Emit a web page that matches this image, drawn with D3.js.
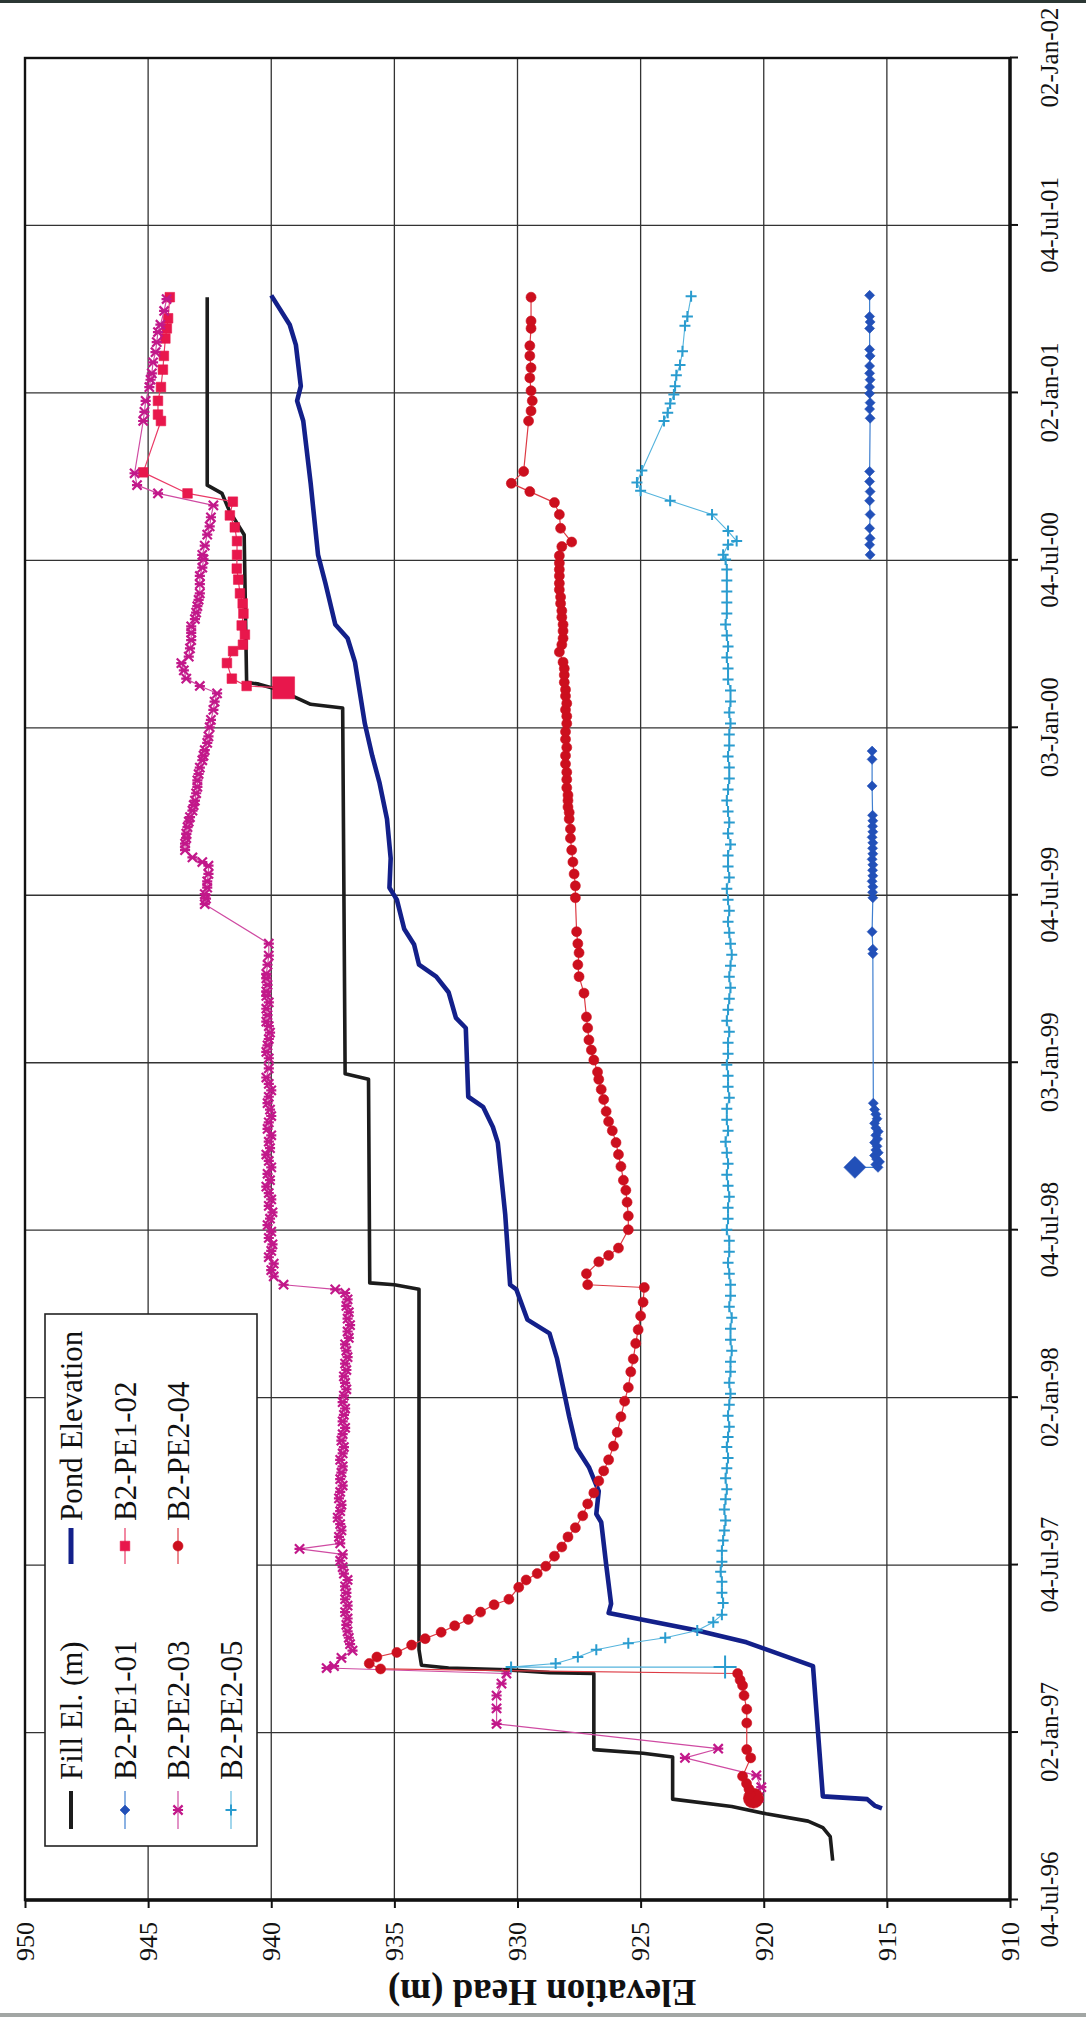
<!DOCTYPE html>
<html>
<head>
<meta charset="utf-8">
<script src="https://cdn.jsdelivr.net/npm/d3@7"></script>
<style>
  html, body { margin: 0; padding: 0; background: #fff; }
  svg { display: block; }
</style>
</head>
<body>
<svg id="chart" width="1086" height="2017"></svg>
<script>
// ---- axis labels ---------------------------------------------------------
const dateTickLabels = ["04-Jul-96","02-Jan-97","04-Jul-97","02-Jan-98","04-Jul-98","03-Jan-99",
                        "04-Jul-99","03-Jan-00","04-Jul-00","02-Jan-01","04-Jul-01","02-Jan-02"];
const elevationTicks = [950,945,940,935,930,925,920,915,910];

// ---- series: [date, elevation (m)] ---------------------------------------
const fillElevation = [
  ["1996-08-16",917.2],["1996-09-11",917.3],["1996-09-21",917.6],["1996-09-28",918.2],
  ["1996-10-06",919.9],["1996-10-14",921.3],["1996-10-22",923.7],["1996-12-07",923.7],
  ["1996-12-11",924.9],["1996-12-15",926.9],["1997-03-08",926.9],["1997-03-09",928.7],
  ["1997-03-12",930.4],["1997-03-14",932.8],["1997-03-17",933.9],["1997-04-03",934.0],
  ["1998-05-01",934.0],["1998-05-06",935.0],["1998-05-08",936.0],["1998-12-16",936.05],
  ["1998-12-22",937.0],["2000-01-25",937.1],["2000-01-29",938.4],["2000-02-14",939.7],
  ["2000-02-20",940.5],["2000-02-22",941.0],["2000-08-01",941.1],["2000-08-27",941.7],
  ["2000-09-15",942.0],["2000-09-24",942.6],["2001-04-17",942.6]
];

const pondElevation = [
  ["1996-10-12",915.2],["1996-10-15",915.5],["1996-10-22",915.8],["1996-10-25",917.6],
  ["1997-03-16",918.0],["1997-04-11",920.7],["1997-04-24",922.7],["1997-05-13",926.3],
  ["1997-05-23",926.2],["1997-07-05",926.4],["1997-08-20",926.6],["1997-08-29",926.8],
  ["1997-09-23",926.7],["1997-10-19",927.1],["1997-11-09",927.6],["1997-12-13",927.9],
  ["1998-02-15",928.4],["1998-03-14",928.7],["1998-03-29",929.6],["1998-05-01",930.05],
  ["1998-05-06",930.3],["1998-07-22",930.5],["1998-10-08",930.8],["1998-10-25",931.0],
  ["1998-11-16",931.4],["1998-11-27",932.0],["1999-02-10",932.1],["1999-02-21",932.5],
  ["1999-03-21",932.8],["1999-04-07",933.3],["1999-04-20",934.0],["1999-05-12",934.2],
  ["1999-05-29",934.6],["1999-06-30",934.9],["1999-07-13",935.2],["1999-08-14",935.15],
  ["1999-09-26",935.3],["1999-11-04",935.6],["1999-12-04",935.9],["2000-01-08",936.2],
  ["2000-03-15",936.6],["2000-04-10",936.9],["2000-04-25",937.4],["2000-06-09",937.8],
  ["2000-07-10",938.1],["2000-09-26",938.4],["2000-12-03",938.7],["2000-12-25",938.95],
  ["2001-01-10",938.8],["2001-02-24",939.0],["2001-03-18",939.25],["2001-04-19",940.0]
];

const pe101 = [
  ["1998-09-11",916.3],["1998-09-11",915.36],["1998-09-14",915.45],["1998-09-17",915.3],
  ["1998-09-20",915.42],["1998-09-24",915.5],["1998-09-27",915.35],["1998-09-30",915.45],
  ["1998-10-04",915.4],["1998-10-08",915.5],["1998-10-12",915.38],["1998-10-16",915.45],
  ["1998-10-20",915.35],["1998-10-24",915.45],["1998-10-29",915.5],["1998-11-03",915.4],
  ["1998-11-08",915.45],["1998-11-13",915.5],["1998-11-20",915.55],
  ["1999-05-02",915.57],["1999-05-07",915.57],["1999-05-26",915.6],["1999-07-02",915.57],
  ["1999-07-08",915.58],["1999-07-14",915.57],["1999-07-20",915.6],["1999-07-26",915.57],
  ["1999-08-01",915.58],["1999-08-07",915.57],["1999-08-13",915.6],["1999-08-19",915.57],
  ["1999-08-25",915.58],["1999-08-31",915.57],["1999-09-06",915.6],["1999-09-12",915.57],
  ["1999-09-18",915.58],["1999-09-24",915.57],["1999-09-30",915.58],["1999-11-01",915.6],
  ["1999-11-30",915.6],["1999-12-09",915.6],
  ["2000-03-01",null],
  ["2000-07-10",915.68],["2000-07-21",915.7],["2000-07-28",915.68],["2000-08-08",915.7],
  ["2000-08-23",915.68],["2000-09-07",915.7],["2000-09-17",915.68],["2000-09-28",915.7],
  ["2000-10-09",915.7],["2000-12-06",915.68],["2000-12-16",915.7],["2000-12-23",915.68],
  ["2001-01-02",915.7],["2001-01-09",915.7],["2001-01-17",915.68],["2001-01-24",915.7],
  ["2001-02-01",915.7],["2001-02-12",915.68],["2001-02-19",915.7],["2001-03-14",915.7],
  ["2001-03-21",915.68],["2001-03-27",915.7],["2001-04-19",915.7]
];

const pe102 = [
  ["2000-02-16",939.5],["2000-02-18",941.0],["2000-02-26",941.6],["2000-03-14",941.8],
  ["2000-03-27",941.55],["2000-04-03",941.15],["2000-04-14",941.07],["2000-04-24",941.2],
  ["2000-05-07",941.13],["2000-05-18",941.16],["2000-05-29",941.27],["2000-06-13",941.34],
  ["2000-06-25",941.4],["2000-07-10",941.39],["2000-07-25",941.39],["2000-08-09",941.48],
  ["2000-08-22",941.68],["2000-09-06",941.56],["2000-09-15",943.4],["2000-10-08",945.2],
  ["2000-12-03",944.48],["2000-12-10",944.6],["2000-12-25",944.6],["2001-01-09",944.48],
  ["2001-01-28",944.4],["2001-02-12",944.36],["2001-03-03",944.3],["2001-03-14",944.24],
  ["2001-03-25",944.19],["2001-04-17",944.12]
];

const pe203 = [
  ["1996-10-24",920.2],["1996-11-04",920.1],["1996-11-17",920.3],["1996-12-06",923.2],
  ["1996-12-16",921.85],["1997-01-12",930.85],["1997-01-29",930.85],["1997-02-12",930.85],
  ["1997-02-25",930.65],["1997-03-08",930.45],["1997-03-14",937.75],["1997-03-16",937.45],
  ["1997-03-25",937.15],["1997-04-02",936.7],["1997-04-09",936.8],["1997-04-16",936.85],
  ["1997-04-23",936.9],["1997-04-30",936.95],["1997-05-07",936.9],["1997-05-14",937.0],
  ["1997-05-21",936.9],["1997-05-28",937.0],["1997-06-04",936.95],["1997-06-11",937.0],
  ["1997-06-18",936.9],["1997-06-25",937.05],["1997-07-02",937.1],["1997-07-09",937.2],
  ["1997-07-16",937.1],["1997-07-22",938.85],["1997-07-28",937.2],["1997-08-04",937.25],
  ["1997-08-11",937.15],["1997-08-18",937.2],["1997-08-25",937.3],["1997-09-01",937.2],
  ["1997-09-08",937.15],["1997-09-15",937.25],["1997-09-22",937.2],["1997-09-29",937.1],
  ["1997-10-06",937.2],["1997-10-13",937.15],["1997-10-20",937.1],["1997-10-27",937.2],
  ["1997-11-03",937.1],["1997-11-10",937.05],["1997-11-17",937.15],["1997-11-24",937.1],
  ["1997-12-01",937.0],["1997-12-08",937.1],["1997-12-15",937.05],["1997-12-22",937.0],
  ["1997-12-29",937.1],["1998-01-05",937.05],["1998-01-12",936.95],["1998-01-19",937.0],
  ["1998-01-26",937.05],["1998-02-02",936.95],["1998-02-09",937.0],["1998-02-16",936.9],
  ["1998-02-23",936.95],["1998-03-02",937.0],["1998-03-09",936.85],["1998-03-16",936.9],
  ["1998-03-23",936.8],["1998-03-30",936.9],["1998-04-06",936.85],["1998-04-13",936.95],
  ["1998-04-20",936.9],["1998-04-27",937.0],["1998-05-01",937.4],["1998-05-06",939.5],
  ["1998-05-15",939.9],["1998-05-22",940.0],["1998-05-29",939.9],["1998-06-05",940.1],
  ["1998-06-12",940.0],["1998-06-19",939.95],["1998-06-26",940.1],["1998-07-03",940.0],
  ["1998-07-10",940.15],["1998-07-17",940.05],["1998-07-24",939.95],["1998-07-31",940.1],
  ["1998-08-07",940.0],["1998-08-14",940.1],["1998-08-21",940.2],["1998-08-28",940.05],
  ["1998-09-04",940.15],["1998-09-11",940.0],["1998-09-18",940.1],["1998-09-25",940.2],
  ["1998-10-02",940.05],["1998-10-09",940.1],["1998-10-16",940.0],["1998-10-23",940.15],
  ["1998-10-30",940.1],["1998-11-06",940.0],["1998-11-13",940.05],["1998-11-20",940.15],
  ["1998-11-27",940.1],["1998-12-04",940.0],["1998-12-11",940.1],["1998-12-18",940.2],
  ["1998-12-28",940.1],["1999-01-08",940.1],["1999-01-15",940.2],["1999-01-22",940.15],
  ["1999-01-29",940.1],["1999-02-05",940.05],["1999-02-12",940.1],["1999-02-17",940.2],
  ["1999-02-24",940.15],["1999-03-03",940.2],["1999-03-10",940.1],["1999-03-17",940.2],
  ["1999-03-22",940.2],["1999-03-29",940.15],["1999-04-05",940.2],["1999-04-10",940.2],
  ["1999-04-20",940.15],["1999-04-30",940.1],["1999-05-13",940.1],["1999-06-25",942.7],
  ["1999-07-01",942.65],["1999-07-06",942.7],["1999-07-13",942.6],["1999-07-20",942.6],
  ["1999-07-28",942.55],["1999-08-06",942.55],["1999-08-10",942.8],["1999-08-15",943.2],
  ["1999-08-23",943.5],["1999-08-30",943.5],["1999-09-05",943.45],["1999-09-10",943.45],
  ["1999-09-17",943.4],["1999-09-23",943.35],["1999-09-28",943.3],["1999-10-05",943.2],
  ["1999-10-11",943.15],["1999-10-16",943.1],["1999-10-24",943.05],["1999-10-31",943.0],
  ["1999-11-07",943.0],["1999-11-14",942.95],["1999-11-21",942.9],["1999-11-29",942.8],
  ["1999-12-04",942.75],["1999-12-10",942.7],["1999-12-18",942.6],["1999-12-25",942.55],
  ["2000-01-04",942.5],["2000-01-12",942.45],["2000-01-23",942.35],["2000-02-01",942.3],
  ["2000-02-10",942.2],["2000-02-18",942.9],["2000-02-26",943.45],["2000-03-06",943.55],
  ["2000-03-14",943.65],["2000-03-21",943.35],["2000-03-30",943.3],["2000-04-08",943.25],
  ["2000-04-16",943.25],["2000-04-23",943.25],["2000-05-01",943.1],["2000-05-08",943.05],
  ["2000-05-15",943.0],["2000-05-22",942.95],["2000-05-29",942.9],["2000-06-08",942.9],
  ["2000-06-17",942.9],["2000-06-26",942.8],["2000-07-05",942.75],["2000-07-10",942.8],
  ["2000-07-20",942.7],["2000-08-01",942.6],["2000-08-10",942.5],["2000-08-20",942.45],
  ["2000-09-02",942.35],["2000-09-15",944.6],["2000-09-24",945.45],["2000-10-07",945.55],
  ["2000-12-03",945.2],["2000-12-13",945.15],["2000-12-25",945.1],["2001-01-09",944.95],
  ["2001-01-17",944.9],["2001-01-24",944.85],["2001-02-05",944.8],["2001-02-16",944.7],
  ["2001-02-27",944.65],["2001-03-10",944.6],["2001-03-18",944.5],["2001-04-02",944.35],
  ["2001-04-15",944.25]
];

const pe204 = [
  ["1996-10-23",920.42],["1996-10-27",920.55],["1996-11-02",920.6],["1996-11-08",920.7],
  ["1996-11-16",920.86],["1996-12-06",920.53],["1996-12-15",920.69],["1997-01-13",920.69],
  ["1997-01-28",920.69],["1997-02-12",920.8],["1997-02-23",920.86],["1997-03-01",920.96],
  ["1997-03-08",921.06],["1997-03-13",935.56],["1997-03-19",936.02],["1997-03-26",935.71],
  ["1997-03-31",934.9],["1997-04-08",934.3],["1997-04-15",933.75],["1997-04-22",933.1],
  ["1997-04-29",932.55],["1997-05-06",932.0],["1997-05-14",931.5],["1997-05-22",930.95],
  ["1997-05-28",930.35],["1997-06-10",929.95],["1997-06-18",929.65],["1997-06-25",929.2],
  ["1997-07-03",928.85],["1997-07-14",928.5],["1997-07-24",928.2],["1997-08-04",927.95],
  ["1997-08-14",927.65],["1997-08-27",927.35],["1997-09-09",927.15],["1997-09-21",926.9],
  ["1997-10-04",926.7],["1997-10-15",926.5],["1997-10-27",926.3],["1997-11-11",926.1],
  ["1997-11-26",925.95],["1997-12-13",925.8],["1997-12-30",925.65],["1998-01-14",925.5],
  ["1998-01-31",925.4],["1998-02-14",925.3],["1998-03-03",925.2],["1998-03-18",925.1],
  ["1998-04-02",925.0],["1998-04-17",924.9],["1998-05-03",924.85],["1998-05-06",927.15],
  ["1998-05-18",927.2],["1998-05-31",926.7],["1998-06-07",926.3],["1998-06-15",925.9],
  ["1998-07-05",925.5],["1998-07-20",925.5],["1998-08-04",925.55],["1998-08-17",925.6],
  ["1998-08-28",925.7],["1998-09-12",925.8],["1998-09-25",925.9],["1998-10-08",926.0],
  ["1998-10-21",926.15],["1998-10-31",926.3],["1998-11-11",926.4],["1998-11-24",926.5],
  ["1998-12-05",926.6],["1998-12-16",926.7],["1998-12-24",926.75],["1999-01-06",926.9],
  ["1999-01-17",927.0],["1999-01-28",927.1],["1999-02-10",927.15],["1999-02-22",927.2],
  ["1999-03-20",927.3],["1999-04-07",927.5],["1999-04-20",927.55],["1999-05-03",927.5],
  ["1999-05-13",927.55],["1999-05-26",927.6],["1999-07-02",927.65],["1999-07-15",927.65],
  ["1999-07-28",927.7],["1999-08-10",927.75],["1999-08-23",927.8],["1999-09-05",927.85],
  ["1999-09-15",927.85],["1999-09-26",927.9],["1999-10-03",927.9],["1999-10-09",927.95],
  ["1999-10-16",927.95],["1999-10-22",927.95],["1999-10-30",928.0],["1999-11-08",928.0],
  ["1999-11-16",928.0],["1999-11-25",928.05],["1999-12-04",928.05],["1999-12-13",928.0],
  ["1999-12-22",928.05],["1999-12-30",928.05],["2000-01-08",928.0],["2000-01-16",928.0],
  ["2000-01-23",928.05],["2000-01-30",928.0],["2000-02-07",928.05],["2000-02-14",928.05],
  ["2000-02-22",928.1],["2000-03-01",928.1],["2000-03-08",928.1],["2000-03-15",928.15],
  ["2000-03-26",928.3],["2000-04-03",928.2],["2000-04-10",928.15],["2000-04-18",928.15],
  ["2000-04-25",928.15],["2000-05-03",928.2],["2000-05-10",928.2],["2000-05-18",928.25],
  ["2000-05-25",928.25],["2000-06-02",928.3],["2000-06-09",928.3],["2000-06-17",928.3],
  ["2000-06-24",928.3],["2000-07-01",928.3],["2000-07-09",928.3],["2000-07-19",928.2],
  ["2000-07-24",927.8],["2000-08-08",928.25],["2000-08-23",928.3],["2000-09-05",928.5],
  ["2000-09-17",929.5],["2000-09-26",930.25],["2000-10-09",929.75],["2000-12-03",929.55],
  ["2000-12-14",929.45],["2000-12-25",929.4],["2001-01-05",929.45],["2001-01-19",929.5],
  ["2001-01-30",929.45],["2001-02-12",929.5],["2001-02-23",929.5],["2001-03-14",929.45],
  ["2001-03-22",929.45],["2001-04-17",929.45]
];

const pe205 = [
  ["1997-03-15",921.57],["1997-03-15",930.26],["1997-03-19",928.45],["1997-03-26",927.55],
  ["1997-04-03",926.8],["1997-04-10",925.5],["1997-04-16",924.0],["1997-04-24",922.7],
  ["1997-05-03",922.05],["1997-05-11",921.7],["1997-05-24",921.65],["1997-06-04",921.7],
  ["1997-06-16",921.7],["1997-06-27",921.75],["1997-07-08",921.7],["1997-07-20",921.7],
  ["1997-07-31",921.65],["1997-08-11",921.6],["1997-08-22",921.55],["1997-09-03",921.6],
  ["1997-09-14",921.55],["1997-09-25",921.5],["1997-10-07",921.55],["1997-10-18",921.5],
  ["1997-10-29",921.45],["1997-11-10",921.5],["1997-11-21",921.45],["1997-12-02",921.4],
  ["1997-12-14",921.45],["1997-12-26",921.4],["1998-01-07",921.35],["1998-01-19",921.4],
  ["1998-01-31",921.35],["1998-02-11",921.35],["1998-02-23",921.3],["1998-03-07",921.35],
  ["1998-03-19",921.35],["1998-03-31",921.3],["1998-04-12",921.4],["1998-04-24",921.35],
  ["1998-05-06",921.35],["1998-05-18",921.4],["1998-05-30",921.45],["1998-06-11",921.4],
  ["1998-06-23",921.4],["1998-07-05",921.5],["1998-07-17",921.45],["1998-07-29",921.45],
  ["1998-08-10",921.4],["1998-08-22",921.45],["1998-09-03",921.5],["1998-09-15",921.45],
  ["1998-09-27",921.5],["1998-10-09",921.55],["1998-10-21",921.45],["1998-11-02",921.5],
  ["1998-11-14",921.5],["1998-11-26",921.4],["1998-12-08",921.45],["1998-12-20",921.45],
  ["1999-01-01",921.5],["1999-01-13",921.45],["1999-01-25",921.45],["1999-02-06",921.4],
  ["1999-02-18",921.5],["1999-03-02",921.45],["1999-03-14",921.4],["1999-03-26",921.35],
  ["1999-04-07",921.4],["1999-04-19",921.35],["1999-05-01",921.3],["1999-05-13",921.35],
  ["1999-05-25",921.4],["1999-06-06",921.45],["1999-06-18",921.4],["1999-06-30",921.45],
  ["1999-07-12",921.5],["1999-07-24",921.4],["1999-08-05",921.45],["1999-08-17",921.45],
  ["1999-08-29",921.35],["1999-09-10",921.45],["1999-09-22",921.4],["1999-10-04",921.45],
  ["1999-10-16",921.5],["1999-10-28",921.45],["1999-11-09",921.4],["1999-11-21",921.4],
  ["1999-12-03",921.45],["1999-12-15",921.4],["1999-12-27",921.4],["2000-01-08",921.35],
  ["2000-01-20",921.4],["2000-02-01",921.35],["2000-02-13",921.35],["2000-02-25",921.45],
  ["2000-03-08",921.45],["2000-03-20",921.5],["2000-04-01",921.45],["2000-04-13",921.5],
  ["2000-04-25",921.55],["2000-05-07",921.5],["2000-05-19",921.5],["2000-05-31",921.5],
  ["2000-06-12",921.5],["2000-06-24",921.5],["2000-07-05",921.55],["2000-07-10",921.65],
  ["2000-07-21",921.45],["2000-07-25",921.1],["2000-08-05",921.45],["2000-08-23",922.1],
  ["2000-09-07",923.8],["2000-09-18",925.0],["2000-09-27",925.15],["2000-10-10",924.95],
  ["2000-12-03",924.05],["2000-12-12",923.9],["2000-12-22",923.8],["2001-01-01",923.65],
  ["2001-01-10",923.6],["2001-01-22",923.55],["2001-02-02",923.4],["2001-02-17",923.3],
  ["2001-03-17",923.2],["2001-03-27",923.1],["2001-04-18",922.95]
];

// ---- series appearance ---------------------------------------------------
const parseDate = d3.utcParse("%Y-%m-%d");
const toPoints = rows => rows.map(([d, v]) => ({ date: parseDate(d), value: v }));

const series = [
  { name: "Fill El. (m)",   data: fillElevation, color: "#1c1c1c", width: 3.6, marker: null },
  { name: "Pond Elevation", data: pondElevation, color: "#13208a", width: 4.6, marker: null },
  { name: "B2-PE1-01", data: pe101, color: "#2250b8", lineColor: "#3f7fd0", width: 1.2, marker: "diamond", size: 5,   firstSize: 11 },
  { name: "B2-PE1-02", data: pe102, color: "#e8174c", lineColor: "#ea3a66", width: 1.2, marker: "square",  size: 4.8, firstSize: 11 },
  { name: "B2-PE2-03", data: pe203, color: "#c2188a", lineColor: "#cf4aa2", width: 1.2, marker: "star",    size: 4.6 },
  { name: "B2-PE2-04", data: pe204, color: "#cc0f1e", lineColor: "#dd3a44", width: 1.2, marker: "circle",  size: 5,   firstSize: 10 },
  { name: "B2-PE2-05", data: pe205, color: "#2a9ccf", lineColor: "#55b4dd", width: 1.1, marker: "plus",    size: 5.5, firstSize: 11.5 }
];
series.forEach(s => s.points = toPoints(s.data));

// marker outlines, drawn in the chart's own (unrotated) frame
const markerPath = {
  diamond: r => `M0,${-r}L${r},0L0,${r}L${-r},0Z`,
  square:  r => `M${-r},${-r}H${r}V${r}H${-r}Z`,
  circle:  r => `M${r},0A${r},${r} 0 1,1 ${-r},0A${r},${r} 0 1,1 ${r},0Z`,
  plus:    r => `M${-r},0H${r}M0,${-r}V${r}`,
  star:    r => `M${-r},${-r}L${r},${r}M${-r},${r}L${r},${-r}M0,${-r * 1.1}V${r * 1.1}`
};
const filledMarker = { diamond: true, square: true, circle: true, plus: false, star: false };
const markerStroke = { plus: 2, star: 2.2 };

// ---- layout --------------------------------------------------------------
// The chart is laid out with time running left-to-right and elevation
// bottom-to-top, then turned a quarter turn so time runs up the page.
const W = 1842, H = 985;
const FONT = "'Liberation Serif', 'Times New Roman', serif";

const svg = d3.select("#chart");
svg.append("rect").attr("width", 1086).attr("height", 2017).attr("fill", "#ffffff");
svg.append("rect").attr("x", 0).attr("y", 0).attr("width", 1086).attr("height", 3).attr("fill", "#2b3734");
svg.append("rect").attr("x", 0).attr("y", 2013).attr("width", 1086).attr("height", 4).attr("fill", "#a2a6a4");

const g = svg.append("g").attr("transform", "translate(25,1900) rotate(-90)");

const DAY = 864e5;
const axisStart = Date.UTC(1996, 6, 4);
const halfYear = 182.625;
const tickDates = dateTickLabels.map((_, i) => new Date(axisStart + i * halfYear * DAY));

const x = d3.scaleUtc().domain([tickDates[0], tickDates[tickDates.length - 1]]).range([0, W]);
const y = d3.scaleLinear().domain([910, 950]).range([H, 0]);

// gridlines
const grid = g.append("g").attr("stroke", "#333").attr("stroke-width", 1.3);
grid.selectAll("line.h").data(elevationTicks.filter(v => v > 910 && v < 950)).join("line")
  .attr("class", "h").attr("x1", 0).attr("x2", W).attr("y1", d => y(d)).attr("y2", d => y(d));
grid.selectAll("line.v").data(tickDates.slice(1, -1)).join("line")
  .attr("class", "v").attr("y1", 0).attr("y2", H).attr("x1", d => x(d)).attr("x2", d => x(d));

// axes
const gx = g.append("g").attr("transform", `translate(0,${H})`)
  .call(d3.axisBottom(x).tickValues(tickDates).tickFormat((d, i) => dateTickLabels[i])
    .tickSizeInner(8).tickSizeOuter(0).tickPadding(22));
gx.attr("font-family", FONT).attr("font-size", 25);
gx.select(".domain").remove();
gx.selectAll(".tick line").attr("stroke", "#111").attr("stroke-width", 2);
gx.selectAll(".tick text").attr("fill", "#111");

const gy = g.append("g")
  .call(d3.axisLeft(y).tickValues(elevationTicks).tickFormat(d3.format("d"))
    .tickSizeInner(8).tickSizeOuter(0).tickPadding(14));
gy.attr("font-family", FONT).attr("font-size", 26);
gy.select(".domain").remove();
gy.selectAll(".tick line").attr("stroke", "#111").attr("stroke-width", 2);
gy.selectAll(".tick text").attr("fill", "#111");

g.append("text")
  .attr("transform", `translate(-92,${y(929)}) rotate(-90)`)
  .attr("text-anchor", "middle").attr("dominant-baseline", "central")
  .attr("font-family", FONT).attr("font-size", 37).attr("font-weight", "bold").attr("fill", "#111")
  .text("Elevation Head (m)");

// plot frame
g.append("rect").attr("width", W).attr("height", H)
  .attr("fill", "none").attr("stroke", "#111").attr("stroke-width", 2.4);
g.append("line").attr("x1", 0).attr("x2", W).attr("y1", H).attr("y2", H)
  .attr("stroke", "#111").attr("stroke-width", 3.4);
g.append("line").attr("x1", 0).attr("x2", 0).attr("y1", 0).attr("y2", H)
  .attr("stroke", "#111").attr("stroke-width", 3.4);

// series
const line = d3.line().defined(d => d.value != null).x(d => x(d.date)).y(d => y(d.value));
const plot = g.append("g");
const drawMarker = (sel, s, r) => sel
  .attr("d", markerPath[s.marker](r))
  .attr("fill", filledMarker[s.marker] ? s.color : "none")
  .attr("stroke", s.color)
  .attr("stroke-width", filledMarker[s.marker] ? 0.6 : markerStroke[s.marker]);

series.forEach(s => {
  const sg = plot.append("g");
  sg.append("path").datum(s.points)
    .attr("fill", "none").attr("stroke", s.lineColor || s.color)
    .attr("stroke-width", s.width).attr("stroke-linejoin", "round")
    .attr("d", line);
  if (s.marker) {
    const pts = s.points.filter(d => d.value != null);
    sg.selectAll("path.m").data(pts).join("path")
      .attr("class", "m")
      .attr("transform", d => `translate(${x(d.date)},${y(d.value)})`)
      .each(function (d, i) {
        drawMarker(d3.select(this), s, i === 0 && s.firstSize ? s.firstSize : s.size);
      });
  }
});

// legend
const legend = g.append("g");
legend.append("rect").attr("x", 54).attr("y", 20).attr("width", 532).attr("height", 212)
  .attr("fill", "#fff").attr("stroke", "#222").attr("stroke-width", 1.6);
const legendCols = [{ x0: 71, x1: 109, tx: 120 }, { x0: 336, x1: 372, tx: 379 }];
const legendRows = [46, 100, 153, 206];
series.forEach((s, i) => {
  const c = legendCols[i % 2], ry = legendRows[Math.floor(i / 2)];
  const item = legend.append("g");
  item.append("line").attr("x1", c.x0).attr("x2", c.x1).attr("y1", ry).attr("y2", ry)
    .attr("stroke", s.lineColor || s.color).attr("stroke-width", s.marker ? s.width : s.width + 0.4);
  if (s.marker) {
    drawMarker(item.append("path").attr("transform", `translate(${(c.x0 + c.x1) / 2},${ry})`), s, s.size);
  }
  item.append("text").attr("x", c.tx).attr("y", ry).attr("dominant-baseline", "central")
    .attr("font-family", FONT).attr("font-size", 31).attr("fill", "#111").text(s.name);
});
</script>
</body>
</html>
